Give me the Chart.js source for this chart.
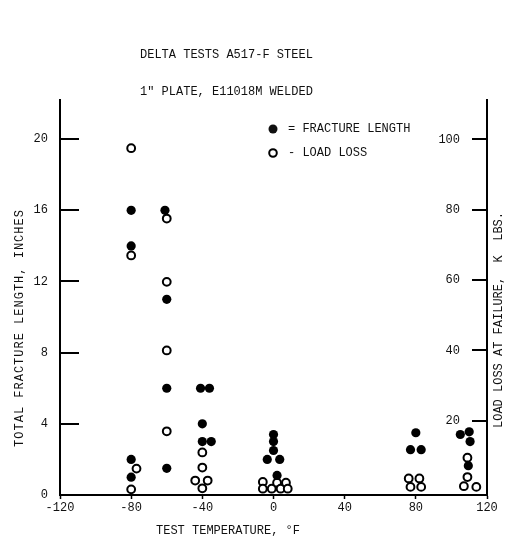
<!DOCTYPE html>
<html>
<head>
<meta charset="utf-8">
<script src="https://cdn.jsdelivr.net/npm/chart.js@4.4.0/dist/chart.umd.min.js"></script>
<style>
  body { margin: 0; background: #fff; }
  #wrap { width: 509px; height: 538px; }
</style>
</head>
<body>
<div id="wrap"><canvas id="graficoDelta"></canvas></div>
<script>
// fracture length (inches) vs test temperature (F)
const fractureTemp = [-80, -80, -80, -80, -61, -60, -60, -60, -41, -36, -40, -40, -35, 0, 0, 0, -3.5, 3.5, 2, 80, 77, 83, 105, 110, 110.5, 109.5];
const fractureLength = [16, 14, 2, 1, 16, 11, 6, 1.5, 6, 6, 4, 3, 3, 3.4, 3.0, 2.5, 2.0, 2.0, 1.1, 3.5, 2.55, 2.55, 3.4, 3.55, 3.0, 1.65];

// load loss at failure (K LBS) vs test temperature (F)
const loadTemp = [-80, -80, -77, -80, -60, -60, -60, -60, -40, -40, -44, -37, -40, -6, -6, -1, 2, 4, 7, 8, 76, 82, 77, 83, 109, 109, 107, 114];
const loadLoss = [97.5, 67, 6.4, 0.5, 77.5, 59.5, 40, 17, 11, 6.7, 3, 3, 0.8, 2.6, 0.7, 0.7, 2.4, 0.7, 2.4, 0.7, 3.6, 3.6, 1.2, 1.2, 9.5, 4, 1.4, 1.2];

const xTicks = [-120, -80, -40, 0, 40, 80, 120];
const leftTicks = [0, 4, 8, 12, 16, 20];
const rightTicks = [20, 40, 60, 80, 100];

const titleLines = ['DELTA TESTS A517-F STEEL', '1" PLATE, E11018M WELDED'];

const FONT = '"Liberation Mono", "DejaVu Sans Mono", monospace';
const INK = '#111';

function pares(xs, ys) {
    return xs.map((x, i) => ({ x: x, y: ys[i] }));
}

// y ticks point into the plot on both sides
const inwardTicks = {
    id: 'inwardTicks',
    afterDraw(chart) {
        const ctx = chart.ctx;
        const y = chart.scales.y;
        const y1 = chart.scales.y1;
        ctx.save();
        ctx.strokeStyle = '#000';
        ctx.lineWidth = 2;
        leftTicks.forEach(v => {
            if (v === 0) return;
            const py = Math.round(y.getPixelForValue(v));
            ctx.beginPath();
            ctx.moveTo(y.right, py);
            ctx.lineTo(y.right + 19, py);
            ctx.stroke();
        });
        rightTicks.forEach(v => {
            const py = Math.round(y1.getPixelForValue(v));
            ctx.beginPath();
            ctx.moveTo(y1.left, py);
            ctx.lineTo(y1.left - 15, py);
            ctx.stroke();
        });
        ctx.restore();
    }
};

// title lines, key and axis captions
const textos = {
    id: 'textos',
    afterDraw(chart) {
        const ctx = chart.ctx;
        ctx.save();
        ctx.fillStyle = INK;
        ctx.font = '12px ' + FONT;
        ctx.textBaseline = 'middle';
        ctx.textAlign = 'left';
        ctx.fillText(titleLines[0], 140, 55);
        ctx.fillText(titleLines[1], 140, 92);

        // key
        ctx.beginPath();
        ctx.arc(273, 129, 4.5, 0, Math.PI * 2);
        ctx.fill();
        ctx.fillText('= FRACTURE LENGTH', 288, 129);
        ctx.beginPath();
        ctx.arc(273, 153, 3.8, 0, Math.PI * 2);
        ctx.lineWidth = 2;
        ctx.strokeStyle = '#000';
        ctx.stroke();
        ctx.fillText('- LOAD LOSS', 288, 153);

        // x caption
        ctx.textAlign = 'center';
        ctx.fillText('TEST TEMPERATURE, \u00b0F', 228, 531);

        // left caption
        ctx.save();
        ctx.translate(20, 328);
        ctx.rotate(-Math.PI / 2);
        ctx.letterSpacing = '1px';
        ctx.fillText('TOTAL FRACTURE LENGTH, INCHES', 0, 0);
        ctx.restore();

        // right caption
        ctx.save();
        ctx.translate(499, 320);
        ctx.rotate(-Math.PI / 2);
        ctx.fillText('LOAD LOSS AT FAILURE,  K  LBS.', 0, 0);
        ctx.restore();

        ctx.restore();
    }
};

const ctxDelta = document.getElementById('graficoDelta').getContext('2d');
const chartDelta = new Chart(ctxDelta, {
    type: 'scatter',
    data: {
        datasets: [
            {
                label: 'FRACTURE LENGTH',
                data: pares(fractureTemp, fractureLength),
                yAxisID: 'y',
                pointRadius: 4.6,
                pointBackgroundColor: '#000',
                pointBorderWidth: 0
            },
            {
                label: 'LOAD LOSS',
                data: pares(loadTemp, loadLoss),
                yAxisID: 'y1',
                pointRadius: 3.9,
                pointBackgroundColor: '#fff',
                pointBorderColor: '#000',
                pointBorderWidth: 2
            }
        ]
    },
    options: {
        responsive: true,
        maintainAspectRatio: false,
        animation: false,
        layout: { padding: { top: 100, left: 0, right: 0, bottom: 0 } },
        plugins: {
            legend: { display: false },
            title: { display: false },
            tooltip: { enabled: false }
        },
        scales: {
            x: {
                type: 'linear',
                position: 'bottom',
                min: -120,
                max: 120,
                afterBuildTicks: s => { s.ticks = xTicks.map(v => ({ value: v })); },
                afterFit: s => { s.height = 43; },
                ticks: { color: INK, font: { family: FONT, size: 12 }, padding: 2, maxRotation: 0 },
                grid: { drawOnChartArea: false, drawTicks: true, tickLength: 4, tickColor: '#000', tickWidth: 1.5 },
                border: { display: true, color: '#000', width: 2 }
            },
            y: {
                type: 'linear',
                position: 'left',
                min: 0,
                max: 22.2,
                afterBuildTicks: s => { s.ticks = leftTicks.map(v => ({ value: v })); },
                afterFit: s => { s.width = 60; },
                ticks: { color: INK, font: { family: FONT, size: 12 }, padding: 12 },
                grid: { drawOnChartArea: false, drawTicks: false },
                border: { display: true, color: '#000', width: 2 }
            },
            y1: {
                type: 'linear',
                position: 'right',
                min: -1.1,
                max: 111.2,
                afterBuildTicks: s => { s.ticks = rightTicks.map(v => ({ value: v })); },
                afterFit: s => { s.width = 22; },
                // mirrored labels sit inside the plot, left of the tick marks
                ticks: { color: INK, font: { family: FONT, size: 12 }, mirror: true, padding: -27 },
                grid: { drawOnChartArea: false, drawTicks: false },
                border: { display: true, color: '#000', width: 2 }
            }
        }
    },
    plugins: [inwardTicks, textos]
});
</script>
</body>
</html>
